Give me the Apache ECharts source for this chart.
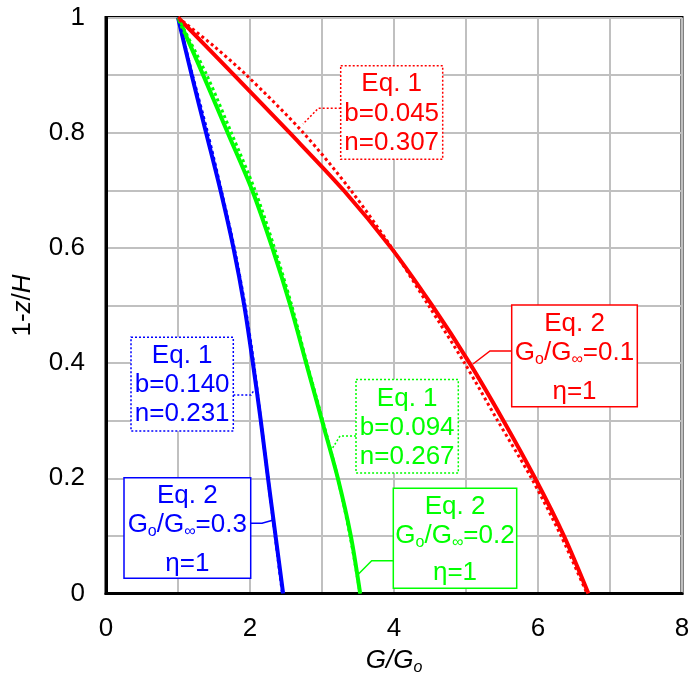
<!DOCTYPE html>
<html><head><meta charset="utf-8">
<script src="https://cdn.jsdelivr.net/npm/echarts@6/dist/echarts.min.js"></script>
<style>html,body{margin:0;padding:0;background:#fff}#c{width:689px;height:675px}</style>
</head><body><div id="c"></div><script>
// ---- data ----
const yLevels   = [1.0, 0.9, 0.8, 0.7, 0.6, 0.5, 0.4, 0.3, 0.2, 0.1, 0.0];
const blueEq2X  = [1.00, 1.19, 1.39, 1.59, 1.77, 1.92, 2.04, 2.15, 2.25, 2.355, 2.46];
const blueEq1X  = [1.00, 1.20, 1.41, 1.60, 1.78, 1.93, 2.05, 2.15, 2.25, 2.35, 2.45];
const greenEq2X = [1.00, 1.35, 1.69, 2.03, 2.31, 2.56, 2.78, 3.00, 3.22, 3.40, 3.53];
const greenEq1X = [1.00, 1.40, 1.74, 2.07, 2.34, 2.58, 2.79, 3.01, 3.22, 3.39, 3.53];
const redEq2X   = [1.00, 1.78, 2.55, 3.30, 3.96, 4.53, 5.05, 5.52, 5.96, 6.36, 6.70];
const redEq1Y   = [1.0, 0.95, 0.9, 0.8, 0.7, 0.6, 0.5, 0.4, 0.3, 0.2, 0.1, 0.0];
const redEq1X   = [1.00, 1.50, 1.95, 2.74, 3.40, 3.97, 4.48, 4.98, 5.44, 5.91, 6.32, 6.68];
const xTickLabels = ['0', '2', '4', '6', '8'];
const yTickLabels = ['0', '0.2', '0.4', '0.6', '0.8', '1'];

const FONT = '"Liberation Sans", Arial, sans-serif';
const RED = '#ff0000', GREEN = '#00ff00', BLUE = '#0000ff';

function pairs(xs, ys) { return xs.map((x, i) => [x, ys[i]]); }

function solid(name, color, xs, ys) {
  return { name, type: 'line', data: pairs(xs, ys), showSymbol: false, smooth: 0.3, z: 3,
    lineStyle: { color, width: 4 }, emphasis: { disabled: true } };
}
function dotted(name, color, xs, ys) {
  return { name, type: 'line', data: pairs(xs, ys), showSymbol: false, smooth: 0.3, z: 4,
    lineStyle: { color, width: 3, type: [3, 3] }, emphasis: { disabled: true } };
}

const rich = {
  m: { fontSize: 26, fontFamily: FONT, lineHeight: 30 },
  s: { fontSize: 16, fontFamily: FONT, lineHeight: 16, verticalAlign: 'bottom' }
};

function annot(color, dashed, rect, cx, lineYs, lines, conn) {
  const els = [];
  els.push({ type: 'polyline', z: 100, shape: { points: conn },
    style: { stroke: color, lineWidth: 1.5, fill: null, lineDash: dashed ? [2, 2] : null } });
  els.push({ type: 'rect', z: 101, shape: { x: rect[0], y: rect[1], width: rect[2], height: rect[3] },
    style: { fill: '#fff', stroke: color, lineWidth: 1.5, lineDash: dashed ? [2, 2] : null } });
  lines.forEach((t, i) => {
    const r = {};
    for (const k in rich) r[k] = Object.assign({ fill: color }, rich[k]);
    els.push({ type: 'text', z: 102, style: { text: t, x: cx, y: lineYs[i], fill: color,
      font: '26px ' + FONT, align: 'center', verticalAlign: 'middle', rich: r } });
  });
  return els;
}

const graphics = [].concat(
  annot(RED, true, [340.7, 65.7, 102, 93.6], 391.7, [84, 113.5, 142.5],
    ['{m|Eq. 1}', '{m|b=0.045}', '{m|n=0.307}'], [[340.7, 108.3], [318.3, 108.3], [303, 124]]),
  annot(BLUE, true, [131, 337.3, 102.3, 93.7], 182.2, [355.5, 385, 414],
    ['{m|Eq. 1}', '{m|b=0.140}', '{m|n=0.231}'], [[233.3, 395], [251, 395], [253.5, 391]]),
  annot(GREEN, true, [356, 379.5, 102.3, 93.5], 407.2, [398.5, 428, 456.5],
    ['{m|Eq. 1}', '{m|b=0.094}', '{m|n=0.267}'], [[356, 436], [340, 436], [332, 449]]),
  annot(BLUE, false, [124, 477.7, 126.7, 100.6], 187.3, [495.5, 524.5, 563.5],
    ['{m|Eq. 2}', '{m|G}{s|o}{m|/G}{s|∞}{m|=0.3}', '{m|η=1}'], [[250.7, 523.3], [262, 523.3], [273.5, 520]]),
  annot(GREEN, false, [393.3, 488.3, 123.4, 100], 455, [506.5, 536, 572.5],
    ['{m|Eq. 2}', '{m|G}{s|o}{m|/G}{s|∞}{m|=0.2}', '{m|η=1}'], [[393.3, 560.7], [371.7, 560.7], [357.5, 575]]),
  annot(RED, false, [511.7, 305, 125.6, 101.7], 574.5, [323.5, 353, 392],
    ['{m|Eq. 2}', '{m|G}{s|o}{m|/G}{s|∞}{m|=0.1}', '{m|η=1}'], [[511.7, 351], [490, 351], [473, 364]])
);

const chart = echarts.init(document.getElementById('c'), null, { renderer: 'canvas' });
const gridLine = { show: true, lineStyle: { color: '#c0c0c0', width: 2 } };
chart.setOption({
  animation: false,
  backgroundColor: '#fff',
  grid: { left: 106, top: 17.5, width: 576, height: 576, show: true, borderColor: '#000', borderWidth: 3,
    backgroundColor: 'transparent', outerBoundsMode: 'none', containLabel: false },
  xAxis: {
    type: 'value', min: 0, max: 8, interval: 2,
    name: '{i|G/G}{s|o}', nameLocation: 'middle', nameGap: 52,
    nameTextStyle: { rich: {
      i: { fontSize: 26, fontStyle: 'italic', fontFamily: FONT, color: '#000', lineHeight: 30 },
      s: { fontSize: 16, fontStyle: 'italic', fontFamily: FONT, color: '#000', lineHeight: 16, verticalAlign: 'bottom' } } },
    axisLine: { show: true, lineStyle: { color: '#000', width: 3 } },
    axisTick: { show: false },
    axisLabel: { margin: 22, fontSize: 26, fontFamily: FONT, color: '#000',
      formatter: v => xTickLabels[Math.round(v / 2)] },
    splitLine: gridLine,
    minorTick: { show: false, splitNumber: 2 },
    minorSplitLine: gridLine
  },
  yAxis: {
    type: 'value', min: 0, max: 1, interval: 0.2,
    name: '{n|1-}{i|z}{n|/}{i|H}', nameLocation: 'middle', nameGap: 70, nameRotate: 90,
    nameTextStyle: { rich: {
      n: { fontSize: 26, fontFamily: FONT, color: '#000' },
      i: { fontSize: 26, fontFamily: FONT, color: '#000', fontStyle: 'italic' } } },
    axisLine: { show: true, lineStyle: { color: '#000', width: 3 } },
    axisTick: { show: false },
    axisLabel: { margin: 21, fontSize: 26, fontFamily: FONT, color: '#000',
      formatter: v => yTickLabels[Math.round(v / 0.2)] },
    splitLine: gridLine,
    minorTick: { show: false, splitNumber: 2 },
    minorSplitLine: gridLine
  },
  series: [
    solid('Eq. 2 Go/G∞=0.3', BLUE, blueEq2X, yLevels),
    dotted('Eq. 1 b=0.140 n=0.231', BLUE, blueEq1X, yLevels),
    solid('Eq. 2 Go/G∞=0.2', GREEN, greenEq2X, yLevels),
    dotted('Eq. 1 b=0.094 n=0.267', GREEN, greenEq1X, yLevels),
    solid('Eq. 2 Go/G∞=0.1', RED, redEq2X, yLevels),
    dotted('Eq. 1 b=0.045 n=0.307', RED, redEq1X, redEq1Y)
  ],
  graphic: { elements: graphics }
});
</script></body></html>
